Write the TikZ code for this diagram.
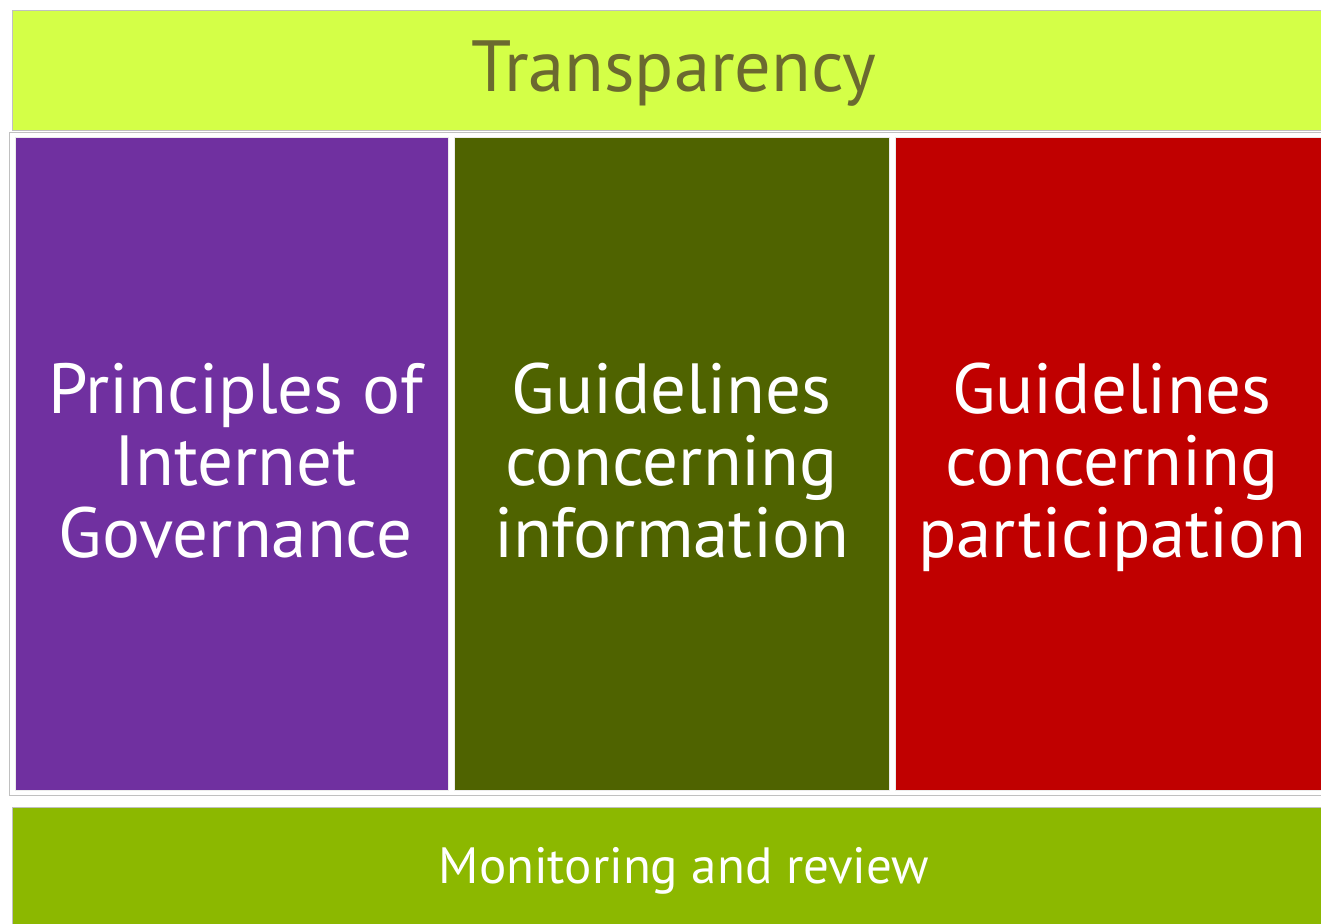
\documentclass[tikz,border=0pt]{standalone}
\usepackage{fontspec}
\setmainfont{PT Sans}
\definecolor{topbar}{RGB}{212,255,71}
\definecolor{toptext}{RGB}{107,105,48}
\definecolor{purplebox}{RGB}{112,48,160}
\definecolor{greenbox}{RGB}{79,99,0}
\definecolor{redbox}{RGB}{192,0,0}
\definecolor{botbar}{RGB}{140,184,0}
\definecolor{edge}{RGB}{192,192,192}
\tikzset{
  bar/.style={draw=edge, line width=1pt},
  pillar/.style={draw=white!85!gray, line width=0.8pt},
  pillartext/.style={text=white, align=center, anchor=base, inner sep=0pt,
    font=\fontsize{71}{72}\selectfont},
}
\begin{document}
\begin{tikzpicture}[x=1pt,y=-1pt]
\useasboundingbox (0,0) rectangle (1321,923);
\fill[white] (0,0) rectangle (1321,923);
% top bar
\path[bar, fill=topbar] (12,11) rectangle (1340,130);
\node[text=toptext, anchor=base, inner sep=0pt, font=\fontsize{72.5}{80}\selectfont] (transp) at (674,92) {Transparency};
% middle frame
\path[draw=edge, line width=1pt, fill=white] (9.5,132.5) rectangle (1340,795.5);
\path[pillar, fill=purplebox] (15,137) rectangle (448,790);
\path[pillar, fill=greenbox] (454,137) rectangle (889.5,790);
\path[pillar, fill=redbox] (895,137) rectangle (1340,790);
\node[pillartext] (pig) at (235.5,557) {Principles of\\Internet\\Governance};
\node[pillartext] (gci) at (671.5,557) {Guidelines\\concerning\\information};
\node[pillartext] (gcp) at (1112,557) {Guidelines\\concerning\\participation};
% bottom bar
\path[bar, fill=botbar] (12,807) rectangle (1340,940);
\node[text=white, anchor=base, inner sep=0pt, font=\fontsize{51}{60}\selectfont] (mon) at (684,883) {Monitoring and review};
\end{tikzpicture}
\end{document}
